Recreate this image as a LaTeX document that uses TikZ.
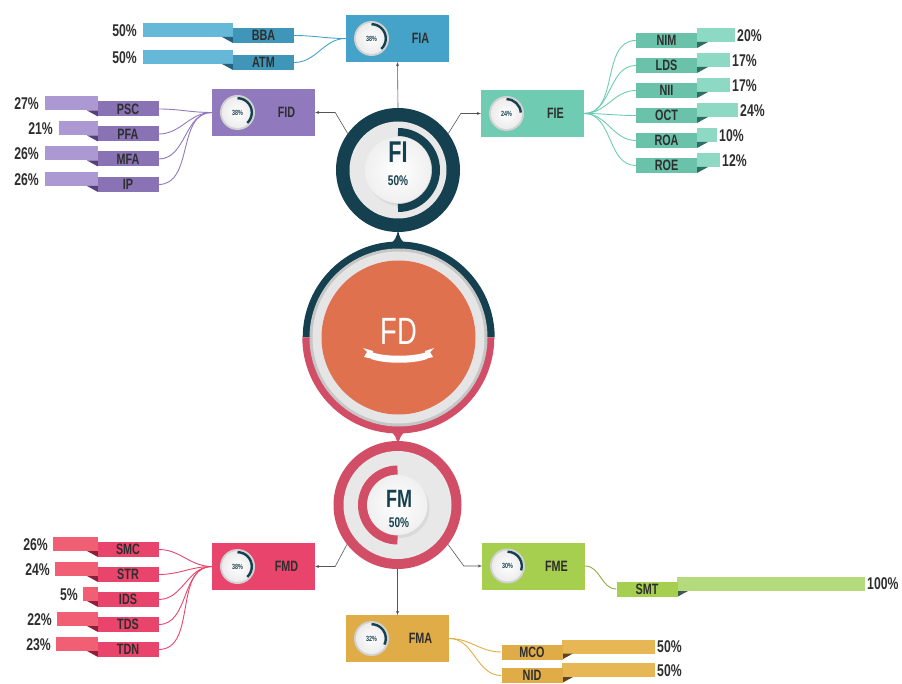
\documentclass[tikz,border=0pt]{standalone}
\usepackage{fontspec}
\setmainfont{Liberation Sans}
\newfontfamily\condfont{Liberation Sans}[FakeStretch=0.72]
\usetikzlibrary{arrows.meta}

\definecolor{fidark}{HTML}{15404F}
\definecolor{fmred}{HTML}{D24E66}
\definecolor{fdorange}{HTML}{E0714F}
\definecolor{fiablue}{HTML}{45A3C9}
\definecolor{fialight}{HTML}{66B8D9}
\definecolor{fiafold}{HTML}{24607E}
\definecolor{fidpurple}{HTML}{9179BE}
\definecolor{fidlight}{HTML}{AC98D2}
\definecolor{fidfold}{HTML}{54407E}
\definecolor{fieteal}{HTML}{6FCCB2}
\definecolor{fielight}{HTML}{8ED9C4}
\definecolor{fiefold}{HTML}{2C6E63}
\definecolor{fmdpink}{HTML}{E9456C}
\definecolor{fmdlight}{HTML}{F05F73}
\definecolor{fmdfold}{HTML}{8C1F3C}
\definecolor{fmegreen}{HTML}{A6CE4F}
\definecolor{fmelight}{HTML}{B5DA7E}
\definecolor{fmefold}{HTML}{3E5A52}
\definecolor{fmagold}{HTML}{E0AC48}
\definecolor{fmalight}{HTML}{E7B755}
\definecolor{fmafold}{HTML}{5E4520}
\definecolor{inktext}{HTML}{2E2E2E}
\definecolor{arrowgrey}{HTML}{555555}

\newcommand\pctfont{\condfont\bfseries\fontsize{17}{17}\selectfont}
\newcommand\tagfont{\condfont\bfseries\fontsize{15}{15}\selectfont}
\newcommand\gaugefont{\condfont\bfseries\fontsize{7.5}{7.5}\selectfont}

\tikzset{
  mainbox/.style={minimum width=103pt, minimum height=47pt, inner sep=0pt},
  boxlabel/.style={font=\tagfont, text=inktext},
  tag/.style={minimum width=61pt, minimum height=15pt, inner sep=0pt,
    font=\tagfont, text=inktext},
  pct/.style={font=\pctfont, text=inktext, inner sep=0pt},
  feed/.style={draw=arrowgrey, line width=0.6pt,
    -{Stealth[length=4pt,width=3pt]}},
  branch/.style={line width=0.9pt},
}

%% small ring with a share of it marked
\newcommand\gauge[2]{%
  \fill[gray!35] (#1) circle (17.5pt);
  \shade[inner color=white, outer color=gray!15] (#1) circle (15.5pt);
  \draw[fidark, line width=2.4pt] (#1) ++(90:14.3pt)
    arc[start angle=90, end angle={90-3.6*#2}, radius=14.3pt];
  \node[font=\gaugefont, text=fidark] at (#1) {#2\%};
}

\begin{document}
\begin{tikzpicture}[x=1pt, y=-1pt]
\useasboundingbox (0,0) rectangle (902,684);

%% pins between the circles
\fill[fidark] (388,246) .. controls (395,241) and (397,237) .. (398,229)
  .. controls (399,237) and (401,241) .. (408,246) -- cycle;
\fill[fmred] (388,429) .. controls (395,434) and (397,438) .. (398,447)
  .. controls (399,438) and (401,434) .. (408,429) -- cycle;

%% FD
\node[circle, minimum size=192pt, inner sep=0pt] (fd) at (398.5,337.5) {};
\fill[fidark] (fd.east) arc[start angle=0, end angle=180, radius=96pt] -- cycle;
\fill[fmred] (fd.west) arc[start angle=180, end angle=360, radius=96pt] -- cycle;
\fill[gray!45] (fd) circle (89pt);
\fill[gray!20] (fd) circle (86pt);
\fill[fdorange] (fd) circle (77pt);
\node[font=\condfont\fontsize{38}{38}\selectfont, text=white] at (399,331.5) {FD};
\fill[white] (371,352) .. controls (385,357) and (413,357) .. (427,352)
  -- (427,359) .. controls (413,364) and (385,364) .. (371,359) -- cycle;
\fill[white] (363,348) -- (373,351) -- (373,359) -- (364,357) -- (367,352) -- cycle;
\fill[white] (434,348) -- (425,351) -- (425,359) -- (433,357) -- (430,352) -- cycle;

%% FI
\node[circle, minimum size=124pt, inner sep=0pt, fill=fidark] (fi) at (398,170) {};
\fill[gray!18] (fi) circle (48.5pt);
\fill[gray!40, opacity=.5] ([shift={(2pt,-3pt)}]fi) circle (33pt);
\draw[fidark, line width=8pt] (fi) ++(90:38pt)
  arc[start angle=90, end angle=-90, radius=38pt];
\shade[inner color=white, outer color=gray!12] (fi) circle (33pt);
\node[font=\condfont\bfseries\fontsize{30}{30}\selectfont, text=fidark] at (398,152) {FI};
\node[font=\condfont\bfseries\fontsize{14}{14}\selectfont, text=fidark] at (398,181) {50\%};

%% FM
\node[circle, minimum size=128pt, inner sep=0pt, fill=fmred] (fm) at (397.5,505) {};
\fill[gray!18] (fm) circle (54pt);
\fill[gray!40, opacity=.5] ([shift={(2pt,-3pt)}]fm) circle (30pt);
\draw[fmred, line width=9pt] (fm) ++(90:35pt)
  arc[start angle=90, end angle=270, radius=35pt];
\shade[inner color=white, outer color=gray!12] (fm) circle (30pt);
\node[font=\condfont\bfseries\fontsize{25}{25}\selectfont, text=fidark] at (399,499) {FM};
\node[font=\condfont\bfseries\fontsize{14}{14}\selectfont, text=fidark] at (399,523) {50\%};

%% boxes
\node[mainbox, fill=fiablue] (fia) at (397.5,38.5) {};
\node[mainbox, fill=fidpurple] (fid) at (263.5,112.5) {};
\node[mainbox, fill=fieteal] (fie) at (532.5,113.5) {};
\node[mainbox, fill=fmdpink] (fmd) at (263.5,566.5) {};
\node[mainbox, fill=fmegreen] (fme) at (533.5,566) {};
\node[mainbox, fill=fmagold] (fma) at (397.5,638.5) {};

\foreach \bx/\lbl/\pc in {fia/FIA/38, fid/FID/38, fie/FIE/24,
    fmd/FMD/38, fme/FME/30, fma/FMA/32}{
  \node[boxlabel] at ([xshift=23pt]\bx.center) {\lbl};
  \coordinate (\bx-g) at ([xshift=-26pt]\bx.center);
  \gauge{\bx-g}{\pc}
}

%% arrows out of the circles
\draw[feed] (fi.north) -- (fia.south);
\draw[feed] (fi.144) -- ([xshift=20pt]fid.east) -- (fid.east);
\draw[feed] (fi.36) -- ([xshift=-20pt]fie.west) -- (fie.west);
\draw[feed] (fm.218) -- ([xshift=20pt]fmd.east) -- (fmd.east);
\draw[feed] (fm.-38) -- ([xshift=-18pt]fme.west) -- (fme.west);
\draw[feed] (fm.south) -- (fma.north);

%% FIA
\foreach \nm/\lbl/\yy/\lx/\pc in {bba/BBA/35.5/143/50, atm/ATM/62.5/143/50}{
  \fill[fialight] (\lx,\yy-12.5) rectangle (233,\yy+1.5);
  \fill[fiafold] (222,\yy+1.5) -- (233,\yy+1.5) -- (233,\yy+7.5) -- cycle;
  \node[tag, fill=fiablue!92!black] (\nm) at (263.5,\yy) {\lbl};
  \node[pct, anchor=east] at (\lx-6,\yy-5) {\pc\%};
  \draw[branch, fiablue] (\nm.east) to[out=0, in=180] (fia.west);
}

%% FID
\foreach \nm/\lbl/\yy/\lx/\pc in {psc/PSC/109/45/27, pfa/PFA/134/59/21,
    mfa/MFA/159/45/26, ip/IP/184.5/45/26}{
  \fill[fidlight] (\lx,\yy-12.5) rectangle (98,\yy+1.5);
  \fill[fidfold] (87,\yy+1.5) -- (98,\yy+1.5) -- (98,\yy+7.5) -- cycle;
  \node[tag, fill=fidpurple!95!black] (\nm) at (128,\yy) {\lbl};
  \node[pct, anchor=east] at (\lx-6,\yy-5) {\pc\%};
  \draw[branch, fidpurple] (\nm.east) to[out=0, in=180] (fid.west);
}

%% FIE
\foreach \nm/\lbl/\yy/\rx/\pc in {nim/NIM/40.5/735/20, lds/LDS/65.5/730/17,
    nii/NII/90.5/730/17, oct/OCT/115.5/738/24, roa/ROA/140.5/717/10,
    roe/ROE/165.5/720/12}{
  \fill[fielight] (697,\yy-12.5) rectangle (\rx,\yy+1.5);
  \fill[fiefold] (697,\yy+1.5) -- (708,\yy+1.5) -- (697,\yy+7.5) -- cycle;
  \node[tag, fill=fieteal!95!black] (\nm) at (666.5,\yy) {\lbl};
  \node[pct, anchor=west] at (\rx+2,\yy-5) {\pc\%};
  \draw[branch, fieteal] (fie.east) to[out=0, in=180] (\nm.west);
}

%% FMD
\foreach \nm/\lbl/\yy/\lx/\pc in {smc/SMC/549.5/53/26, str/STR/574.5/55/24,
    ids/IDS/599.5/83/5, tds/TDS/624.5/57/22, tdn/TDN/649.5/56/23}{
  \fill[fmdlight] (\lx,\yy-12.5) rectangle (98,\yy+1.5);
  \fill[fmdfold] (87,\yy+1.5) -- (98,\yy+1.5) -- (98,\yy+7.5) -- cycle;
  \node[tag, fill=fmdpink] (\nm) at (128,\yy) {\lbl};
  \node[pct, anchor=east] at (\lx-5,\yy-5) {\pc\%};
  \draw[branch, fmdpink] (\nm.east) to[out=0, in=180] (fmd.west);
}

%% FME
\fill[fmelight] (677,577) rectangle (865,591);
\fill[fmefold] (677,591) -- (688,591) -- (677,597) -- cycle;
\node[tag, fill=fmegreen] (smt) at (647,589) {SMT};
\node[pct, anchor=west] at (867,584) {100\%};
\draw[branch, fmegreen!85!black] (fme.east) to[out=0, in=180] (smt.west);

%% FMA
\foreach \nm/\lbl/\yy in {mco/MCO/652, nid/NID/675.5}{
  \fill[fmalight] (562,\yy-12.5) rectangle (655,\yy+1.5);
  \fill[fmafold] (562,\yy+1.5) -- (573,\yy+1.5) -- (562,\yy+7.5) -- cycle;
  \node[tag, fill=fmagold] (\nm) at (532,\yy) {\lbl};
  \node[pct, anchor=west] at (657,\yy-5) {50\%};
  \draw[branch, fmagold] (fma.east) to[out=0, in=180] (\nm.west);
}

\end{tikzpicture}
\end{document}
